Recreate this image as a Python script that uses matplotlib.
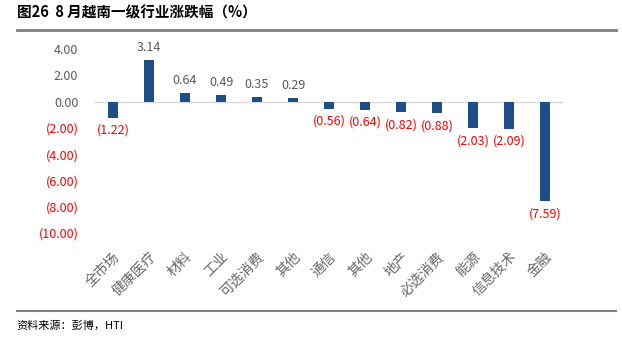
import matplotlib.pyplot as plt
import numpy as np

plt.rcParams['font.family'] = ['Noto Sans CJK SC', 'DejaVu Sans']

categories = ['全市场', '健康医疗', '材料', '工业', '可选消费', '其他', '通信',
              '其他', '地产', '必选消费', '能源', '信息技术', '金融']
values = [-1.22, 3.14, 0.64, 0.49, 0.35, 0.29, -0.56, -0.64, -0.82, -0.88, -2.03, -2.09, -7.59]
yticks = [4, 2, 0, -2, -4, -6, -8, -10]

bar_color = '#1F4E87'
red = '#FF0000'
gray = '#595959'

def fmt(v):
    return '(%.2f)' % abs(v) if v < 0 else '%.2f' % v

fig = plt.figure(figsize=(6.22, 3.45), dpi=100)
ax = fig.add_axes([95 / 622, 1 - 233 / 345, (563 - 95) / 622, (233 - 49) / 345])

x = np.arange(len(categories))
ax.bar(x, values, width=0.3, color=bar_color, zorder=3)
ax.axhline(0, color='#D9D9D9', lw=1, zorder=2)

for xi, v in zip(x, values):
    if v >= 0:
        ax.text(xi, v + 0.45, fmt(v), ha='center', va='bottom', fontsize=9, color=gray)
    else:
        ax.text(xi, v - 0.45, fmt(v), ha='center', va='top', fontsize=9, color=red)

ax.set_ylim(-10, 4)
ax.set_xlim(-0.5, len(categories) - 0.5)
ax.set_yticks(yticks)
ax.set_yticklabels([fmt(t) for t in yticks], fontsize=9)
for lbl, t in zip(ax.get_yticklabels(), yticks):
    lbl.set_color(red if t < 0 else gray)

ax.set_xticks(x)
ax.set_xticklabels(categories, rotation=45, ha='right', rotation_mode='anchor',
                   fontsize=10, color='#666666')
ax.tick_params(axis='both', length=0)
ax.tick_params(axis='y', pad=12)
ax.tick_params(axis='x', pad=12)
for s in ax.spines.values():
    s.set_visible(False)

fig.text(0.027, 0.965, '图26  8 月越南一级行业涨跌幅（%）', fontsize=10.5, fontweight='bold',
         va='center', ha='left', color='black')
fig.add_artist(plt.Line2D([0.027, 0.99], [0.913, 0.913], color='#808080', lw=2))
fig.add_artist(plt.Line2D([0.027, 0.99], [0.098, 0.098], color='#808080', lw=1.5))
fig.text(0.027, 0.058, '资料来源：彭博，HTI', fontsize=8, va='center', ha='left', color='black')

fig.savefig('out.png', dpi=100)
